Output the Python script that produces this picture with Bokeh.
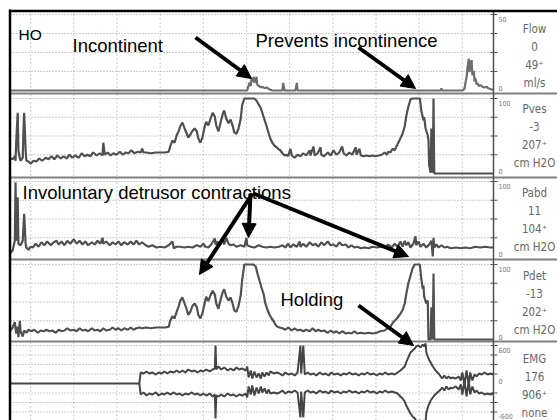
from bokeh.plotting import figure
from bokeh.models import Range1d, Label, Arrow, NormalHead
from bokeh.embed import file_html
from bokeh.resources import INLINE

# ---------------- data (time in s, values in channel units) ----------------
flow_t = [0, 329, 332, 334, 335, 336, 338, 339, 341, 342, 343, 345, 348, 350, 353, 356, 359, 361, 364, 378,
          379, 381, 396, 398, 399, 598, 599, 600, 628, 631, 632, 634, 635, 637, 638, 639, 641, 642, 644, 645,
          646, 648, 649, 651, 653, 656, 659, 662, 664, 667, 670, 671]
flow_v = [0, 0, 5, 3, 8, 6, 9, 5, 7, 9, 4, 3, 2, 2.5, 1.5, 2, 1, 0.5, 0, 0,
          5, 0, 0, 5, 0, 0, 1.5, 0, 0, 1, 4, 9, 14, 21, 12, 17, 20, 10, 13, 6,
          8, 4, 5, 3, 3.5, 2.5, 2, 2.5, 1.5, 1, 0.5, 0.3]

pves = [(0,20),(3,19),(6,23),(7,17),(8,44),(10,81),(11,31),(13,20),(14,17),(17,21),(18,57),(19,81),(21,31),(22,17),
        (25,16),(28,13),(32,17),(36,16),(40,20),(44,17),(49,21),(53,19),(57,23),(61,19),(65,24),(70,20),(74,23),
        (78,20),(82,25),(86,21),(90,24),(95,21),(99,27),(103,23),(107,25),(111,23),(115,28),(120,24),(124,27),
        (128,24),(129,41),(131,25),(135,28),(139,24),(143,27),(147,25),(152,29),(156,25),(160,28),(164,27),
        (168,31),(172,27),(177,29),(181,28),(183,33),(185,28),(189,28),(195,27),(202,28),(209,28),(215,28),
        (220,29),(222,36),(225,44),(228,41),(231,51),(234,57),(236,63),(239,68),(242,60),(245,53),(247,48),
        (250,52),(253,57),(256,60),(259,56),(261,47),(264,41),(267,49),(270,63),(272,69),(275,64),(278,73),
        (281,81),(284,76),(286,64),(289,56),(292,68),(295,79),(297,84),(300,73),(303,67),(306,72),(309,63),
        (311,55),(314,53),(317,60),(320,73),(322,91),(325,100),(339,100),(342,97),(345,92),(348,87),(350,81),
        (353,72),(356,63),(359,53),(361,47),(364,41),(367,37),(370,35),(373,32),(375,31),(378,27),(381,24),
        (384,25),(386,23),(389,33),(391,24),(395,21),(399,25),(403,23),(407,27),(411,24),(416,31),(417,24),
        (421,36),(423,24),(427,27),(431,35),(432,25),(436,23),(441,28),(445,24),(449,31),(453,25),(457,28),
        (461,36),(463,27),(467,24),(471,28),(475,25),(480,35),(481,25),(485,33),(487,24),(491,23),(495,24),
        (499,23),(503,24),(507,23),(512,24),(516,25),(520,28),(523,25),(525,29),(528,28),(531,33),(534,31),
        (537,37),(539,41),(542,47),(545,53),(548,63),(550,76),(553,89),(556,99),(559,100),(569,100),(571,84),
        (574,71),(575,75),(577,60),(580,51),(581,44),(582,11),(584,1),(585,60),(587,1),(588,100),(589,0),(671,0)]

pabd = [(0,5),(3,8),(6,21),(7,99),(8,21),(10,79),(11,17),(14,15),(17,21),(19,57),(21,17),(22,12),(25,9),(28,13),
        (31,12),(35,17),(39,13),(43,19),(47,15),(51,20),(56,15),(60,19),(64,21),(67,16),(71,20),(75,15),(79,21),
        (83,17),(88,23),(92,17),(96,21),(100,16),(104,20),(108,15),(113,19),(117,16),(121,21),(125,17),(128,25),
        (129,17),(133,20),(138,15),(142,19),(146,16),(150,20),(154,15),(158,19),(163,16),(167,20),(171,16),
        (175,21),(179,16),(183,19),(188,15),(192,13),(197,15),(203,12),(209,13),(214,12),(220,15),(225,20),
        (227,11),(231,13),(236,13),(242,12),(247,13),(253,12),(259,15),(264,13),(268,17),(271,13),(275,12),
        (279,16),(284,24),(285,16),(288,20),(291,15),(295,23),(297,16),(300,25),(303,17),(306,15),(310,16),
        (314,13),(320,15),(325,13),(328,25),(329,15),(334,13),(339,12),(345,15),(350,13),(356,12),(361,13),
        (367,12),(373,13),(378,15),(382,12),(386,17),(389,12),(393,16),(398,13),(402,20),(403,13),(407,17),
        (411,13),(416,19),(420,15),(424,17),(428,13),(432,19),(436,15),(441,20),(445,15),(449,16),(453,13),
        (457,19),(461,15),(466,16),(470,12),(474,15),(478,12),(482,13),(487,11),(492,12),(498,11),(503,13),
        (509,12),(514,13),(520,12),(525,16),(530,12),(534,17),(538,13),(542,20),(545,13),(548,21),(550,15),
        (553,19),(556,12),(560,17),(563,27),(564,15),(567,20),(570,13),(574,17),(578,12),(582,16),(585,21),
        (587,0),(588,25),(589,12),(592,16),(595,12),(599,15),(603,12),(607,13),(612,11),(619,12),(626,11),
        (632,12),(639,11),(646,13),(653,12),(660,13),(667,12),(671,12)]

pdet = [(0,12),(3,16),(6,23),(8,8),(10,17),(11,3),(13,25),(14,11),(17,4),(19,12),(22,9),(25,13),(29,11),(33,13),
        (38,9),(42,12),(46,11),(50,13),(54,11),(58,12),(63,9),(67,13),(71,11),(75,12),(79,15),(83,12),(88,13),
        (92,11),(96,15),(100,12),(104,13),(108,11),(113,15),(117,12),(121,13),(125,11),(129,15),(133,12),
        (138,13),(142,16),(146,13),(150,15),(154,12),(158,15),(163,13),(167,16),(171,13),(175,15),(179,16),
        (183,15),(189,16),(195,15),(202,16),(209,16),(215,16),(220,17),(222,25),(225,31),(228,28),(231,37),
        (234,45),(236,52),(239,56),(242,48),(245,40),(247,33),(250,37),(253,45),(256,48),(259,43),(261,33),
        (264,28),(267,36),(270,49),(272,57),(275,51),(278,59),(281,65),(284,60),(286,48),(289,41),(292,53),
        (295,63),(297,67),(300,57),(303,52),(306,56),(309,47),(311,39),(314,37),(317,45),(320,59),(322,79),
        (325,100),(338,100),(341,97),(343,89),(346,79),(349,69),(352,60),(354,49),(357,40),(360,33),(363,28),
        (366,24),(368,20),(371,17),(374,16),(378,15),(382,13),(386,16),(391,12),(395,15),(399,12),(403,13),
        (407,11),(411,13),(416,11),(420,15),(424,11),(428,13),(432,11),(436,12),(441,9),(445,12),(449,9),
        (453,11),(457,8),(461,11),(466,8),(470,9),(474,8),(478,11),(482,8),(487,9),(492,8),(498,9),(503,8),
        (509,9),(514,11),(520,12),(524,15),(528,17),(532,23),(537,28),(541,33),(545,39),(548,48),(550,60),
        (553,75),(556,85),(559,95),(562,100),(569,100),(571,81),(573,68),(574,72),(575,57),(578,48),(580,52),
        (581,0),(584,0),(585,43),(587,0),(588,88),(589,0),(671,0)]

emg_upper = [(0,0),(179,0),(181,174),(185,158),(189,190),(193,158),(197,174),(202,142),(206,174),(210,158),
             (214,190),(218,158),(222,190),(227,174),(231,205),(235,174),(239,205),(243,174),(247,221),(252,190),
             (256,205),(260,174),(264,205),(268,190),(272,221),(277,190),(281,221),(284,237),(285,600),(286,221),
             (289,269),(293,221),(297,253),(302,205),(306,237),(310,205),(314,253),(318,221),(322,237),(327,205),
             (329,269),(331,95),(334,205),(336,79),(339,190),(342,95),(345,158),(348,79),(350,174),(353,111),
             (356,174),(359,126),(361,190),(366,158),(370,174),(374,158),(378,126),(382,174),(386,142),(391,158),
             (395,126),(399,174),(403,600),(404,158),(407,600),(409,142),(413,174),(417,142),(421,158),(425,126),
             (430,174),(434,142),(438,158),(442,126),(446,174),(450,142),(455,158),(459,126),(463,158),(467,142),
             (471,174),(475,142),(480,158),(484,126),(488,158),(492,142),(496,174),(500,142),(505,158),(509,126),
             (513,158),(517,142),(521,174),(525,142),(530,158),(534,142),(538,174),(542,205),(545,237),(548,269),
             (550,332),(553,411),(556,490),(559,521),(562,553),(564,585),(567,600),(570,569),(573,616),(575,585),
             (577,632),(578,490),(581,395),(584,332),(587,269),(589,237),(592,190),(595,158),(598,111),(600,79),
             (603,126),(606,79),(609,111),(612,79),(614,95),(619,79),(623,111),(626,47),(628,174),(631,-16),
             (634,205),(637,-32),(639,174),(642,47),(645,142),(648,111),(651,158),(655,142),(659,174),(663,142),
             (667,158),(671,142)]

emg_lower = [(179,0),(181,-174),(185,-142),(189,-190),(193,-158),(197,-174),(202,-142),(206,-190),(210,-158),
             (214,-174),(218,-142),(222,-174),(227,-142),(231,-174),(235,-158),(239,-190),(243,-158),(247,-174),
             (252,-142),(256,-174),(260,-158),(264,-190),(268,-158),(272,-190),(277,-158),(281,-205),(284,-174),
             (285,-553),(286,-190),(289,-205),(293,-174),(297,-205),(302,-158),(306,-190),(310,-174),(314,-205),
             (318,-174),(322,-190),(327,-158),(329,-221),(331,-47),(334,-174),(336,-32),(339,-190),(342,-63),
             (345,-158),(348,-47),(350,-142),(353,-79),(356,-158),(359,-95),(361,-158),(366,-142),(370,-158),
             (374,-142),(378,-111),(382,-158),(386,-126),(391,-142),(395,-111),(399,-142),(403,-537),(404,-126),
             (407,-537),(409,-142),(413,-111),(417,-142),(421,-126),(425,-158),(430,-111),(434,-142),(438,-126),
             (442,-158),(446,-111),(450,-142),(455,-126),(459,-158),(463,-126),(467,-142),(471,-111),(475,-142),
             (480,-126),(484,-158),(488,-126),(492,-142),(496,-111),(500,-142),(505,-126),(509,-158),(513,-126),
             (517,-142),(521,-111),(525,-142),(530,-126),(534,-142),(538,-158),(542,-205),(545,-237),(548,-284),
             (550,-348),(553,-411),(556,-474),(559,-521),(562,-553),(564,-585),(567,-600),(570,-585),(573,-600),
             (575,-585),(577,-616),(578,-458),(581,-348),(584,-269),(587,-221),(589,-190),(592,-158),(595,-126),
             (598,-95),(600,-63),(603,-111),(606,-47),(609,-95),(612,-63),(614,-79),(619,-47),(623,-95),(626,-16),
             (628,-174),(631,32),(634,-205),(637,47),(639,-174),(642,-47),(645,-142),(648,-111),(651,-158),
             (655,-142),(659,-174),(663,-158),(667,-174),(671,-158)]

# right-hand readouts
channel_names = ["Flow", "Pves", "Pabd", "Pdet", "EMG"]
readout_now = ["0", "-3", "11", "-13", "176"]
readout_max = ["49\u207a", "207\u207a", "104\u207a", "202\u207a", "906\u207a"]
channel_units = ["ml/s", "cm H2O", "cm H2O", "cm H2O", "none"]
scale_top = [50, 100, 100, 100, 600]
scale_bottom = [0, 0, 0, 0, -600]
grid_levels = [[12.5, 25, 37.5, 50], [25, 50, 75, 100], [25, 50, 75, 100], [25, 50, 75, 100],
               [-450, -300, -150, 150, 300, 450, 600]]
grid_times = [28, 88, 148, 208, 268, 328, 388, 448, 508, 568, 628]

notes = ["HO", "Incontinent", "Prevents incontinence", "Involuntary detrusor contractions", "Holding"]

# ---------------- layout ----------------
W, H = 557, 420
X_LEFT, X_DIV = 10, 493
SEC_PER_PX = 1.39
T_END = (X_DIV - X_LEFT) * SEC_PER_PX
keys = ["flow", "pves", "pabd", "pdet", "emg"]
zero_px = [90, 173, 256, 339, 383]
px_per_unit = [76 / 50, 0.75, 0.75, 0.75, 38 / 600]
sep_px = [93, 177, 259, 341]
label_first_px = [28, 108, 192, 275, 358]
LABEL_STEP = 18.3

p = figure(width=W, height=H, x_range=Range1d(0, W), y_range=Range1d(H, 0),
           x_axis_type=None, y_axis_type=None, toolbar_location=None,
           output_backend="svg", min_border=0, outline_line_color=None,
           background_fill_color="white", border_fill_color="white")
p.extra_x_ranges = {"time": Range1d(-X_LEFT * SEC_PER_PX, (W - X_LEFT) * SEC_PER_PX)}
p.extra_y_ranges = {k: Range1d((z - H) / s, z / s) for k, z, s in zip(keys, zero_px, px_per_unit)}

GRID = "#9a9a9a"
# vertical dotted grid
p.segment(x0=grid_times, x1=grid_times, y0=[X_LEFT] * len(grid_times), y1=[H] * len(grid_times),
          x_range_name="time", line_color=GRID, line_dash="1 3", line_width=1)
# horizontal dotted grid + divider ticks
for k, lev in zip(keys, grid_levels):
    n = len(lev)
    p.segment(x0=[0] * n, x1=[T_END] * n, y0=lev, y1=lev, x_range_name="time", y_range_name=k,
              line_color=GRID, line_dash="1 2", line_width=1)
    p.segment(x0=[X_DIV - 3] * n, x1=[X_DIV + 4] * n, y0=lev, y1=lev, y_range_name=k,
              line_color="#555555", line_width=1)

# panel separators
p.segment(x0=[X_LEFT] * len(sep_px), x1=[W] * len(sep_px), y0=sep_px, y1=sep_px,
          line_color="#808080", line_width=2)

TRACE = "#505050"
p.line(flow_t, flow_v, x_range_name="time", y_range_name="flow", line_color="#6e6e6e", line_width=2.2)
for k, series in (("pves", pves), ("pabd", pabd), ("pdet", pdet)):
    t, v = zip(*series)
    p.line(list(t), list(v), x_range_name="time", y_range_name=k, line_color=TRACE, line_width=2.2)
for series in (emg_upper, emg_lower):
    t, v = zip(*series)
    p.line(list(t), list(v), x_range_name="time", y_range_name="emg", line_color="#454545", line_width=2)

# divider and outer border
p.segment(x0=[X_DIV], x1=[X_DIV], y0=[X_LEFT], y1=[H], line_color="#505050", line_width=1.5)
p.segment(x0=[X_LEFT - 1.5, X_LEFT - 0.5], x1=[W, X_LEFT - 0.5], y0=[X_LEFT + 0.5, X_LEFT - 1],
          y1=[X_LEFT + 0.5, H], line_color="black", line_width=2.5)

# right-hand readouts
NARROW = "DejaVu Sans Condensed"
for i in range(5):
    texts = [channel_names[i], readout_now[i], readout_max[i], channel_units[i]]
    for j, txt in enumerate(texts):
        p.add_layout(Label(x=534, y=label_first_px[i] + j * LABEL_STEP, text=txt, text_align="center",
                           text_baseline="middle", text_font=NARROW, text_font_size="11.5px",
                           text_color="#666666"))
    p.add_layout(Label(x=498, y=scale_top[i], y_range_name=keys[i], text=str(scale_top[i]), y_offset=-4,
                       text_align="left", text_baseline="middle", text_font=NARROW,
                       text_font_size="7px", text_color="#777777"))
    p.add_layout(Label(x=498, y=scale_bottom[i], y_range_name=keys[i], text=str(scale_bottom[i]),
                       y_offset=3 if i < 4 else 6, text_align="left", text_baseline="middle",
                       text_font=NARROW, text_font_size="7px", text_color="#777777"))
    if i == 4:
        p.add_layout(Label(x=498, y=0, y_range_name="emg", text="0", y_offset=3, text_align="left",
                           text_baseline="middle", text_font=NARROW, text_font_size="7px",
                           text_color="#777777"))

# annotations
ANN = "Liberation Sans, Arial, sans-serif"
note_pos = [(18, 33.5, "15.5px"), (72, 45, "18.5px"), (255, 40, "18.5px"), (22, 192, "18.5px"),
            (280, 299, "18.5px")]
for txt, (x, y, fs) in zip(notes, note_pos):
    p.add_layout(Label(x=x, y=y, text=txt, text_align="left", text_baseline="alphabetic",
                       text_font=ANN, text_font_size=fs, text_color="black"))

arrow_pts = [((195, 37), (251, 78)), ((358, 47), (415, 88)), ((252, 193), (199, 274)),
             ((250, 193), (248, 237)), ((253, 193), (408, 256)), ((358, 305), (413, 345))]
for (xs, ys), (xe, ye) in arrow_pts:
    p.add_layout(Arrow(x_start=xs, y_start=ys, x_end=xe, y_end=ye, line_color="black", line_width=4,
                       end=NormalHead(size=14, fill_color="black", line_color="black", line_width=1)))

open("out.html", "w").write(file_html(p, INLINE))
